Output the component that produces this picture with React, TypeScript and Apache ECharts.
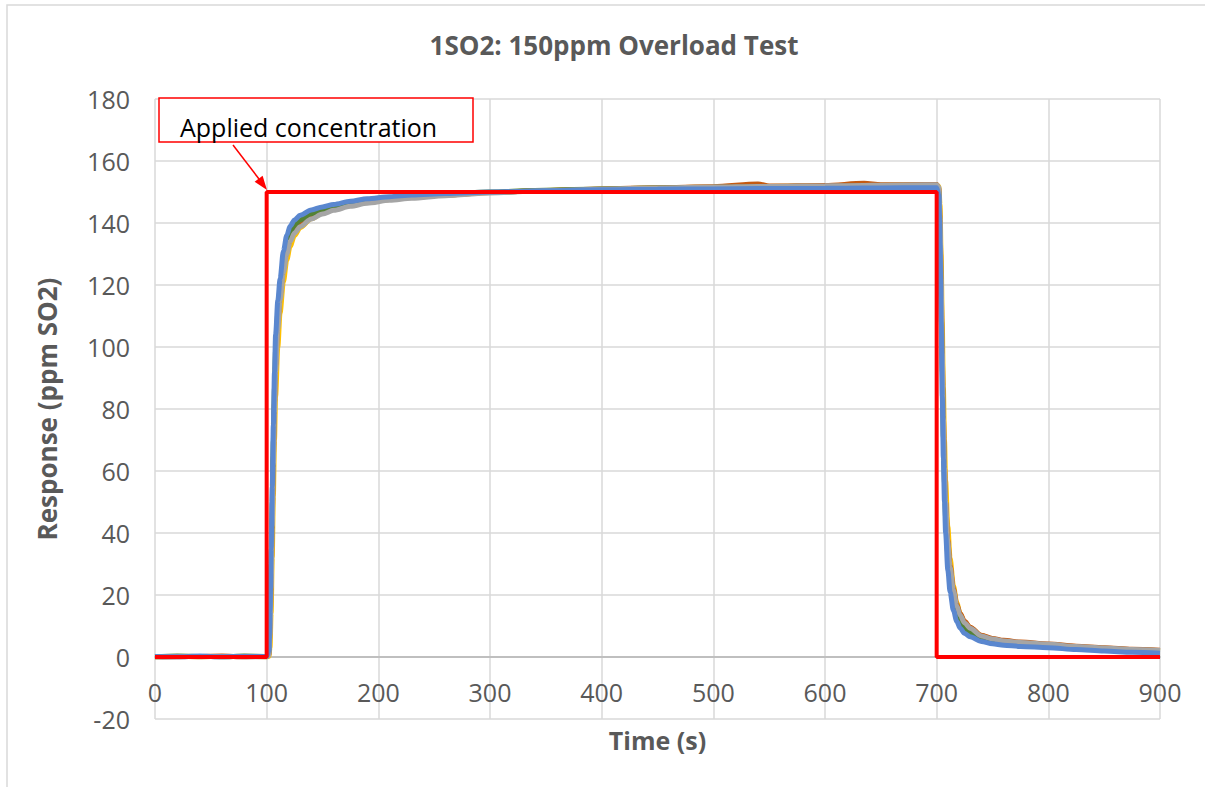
import React, { useEffect, useRef } from "react";
import * as echarts from "echarts";

const titleText = "1SO2: 150ppm Overload Test";
const xAxisName = "Time (s)";
const yAxisName = "Response (ppm SO2)";
const annotationText = "Applied concentration";

const appliedTime = [0, 100, 100, 700, 700, 900];
const appliedConc = [0, 0, 150, 150, 0, 0];

const sensorTime = [0, 20, 40, 60, 80, 100, 102, 103, 104, 105, 106, 107, 108, 110, 112, 115, 118, 121, 125, 130, 140, 150, 160, 175, 190, 210, 230, 260, 300, 350, 400, 450, 500, 540, 550, 600, 635, 650, 690, 700, 702, 703, 704, 705, 706, 707, 708, 710, 712, 715, 718, 721, 725, 730, 740, 750, 760, 775, 800, 825, 850, 875, 900];

const sensorBlue = [0.2, 0.1, 0.3, 0.1, 0.2, 0.2, 2, 15, 35, 55, 75, 92, 104, 115, 122, 131, 136, 139, 141, 142.5, 144.2, 145.2, 146, 147, 147.8, 148.5, 149, 149.5, 150, 150.4, 150.7, 150.9, 151, 151.1, 151.1, 151.2, 151.3, 151.3, 151.4, 151.4, 149, 133, 108, 84, 64, 50, 40, 28, 21, 15, 11.5, 9.3, 7.6, 6.5, 5.0, 4.3, 3.8, 3.4, 3.0, 2.4, 1.9, 1.5, 1.2];

const sensorGray = [0.1, 0.2, 0.1, 0.2, 0.1, 0.1, 0.5, 7, 22, 42, 62, 79, 92, 106, 115, 124, 130, 134, 136.8, 138.8, 141.3, 142.9, 144.1, 145.4, 146.4, 147.3, 148, 148.8, 149.7, 150.4, 150.9, 151.3, 151.6, 151.8, 151.8, 152, 152.1, 152.2, 152.3, 152.3, 151.5, 142, 122, 98, 77, 61, 50, 37, 29, 21.5, 16.5, 13.5, 11, 9.3, 6.8, 5.8, 5.2, 4.7, 4.1, 3.4, 2.9, 2.4, 2.1];

const sensorGreen = [0.1, 0.3, 0.2, 0.1, 0.3, 0.2, 1.5, 12, 30, 50, 70, 87, 99, 111, 119, 128, 133.5, 137, 139.3, 141, 143, 144.3, 145.2, 146.3, 147.2, 148, 148.6, 149.3, 150, 150.6, 151, 151.3, 151.5, 151.6, 151.6, 151.8, 151.9, 151.9, 152, 152, 150, 138, 116, 92, 71, 56, 45, 33, 25, 18.5, 14, 11.4, 9.3, 7.9, 6.0, 5.1, 4.5, 4.0, 3.5, 2.9, 2.4, 2.0, 1.7];

const sensorOrange = [0.2, 0.1, 0.2, 0.3, 0.1, 0.2, 0.8, 9, 25, 45, 65, 82, 94, 108, 116.5, 125.5, 131, 134.8, 137.5, 139.5, 142, 143.5, 144.6, 145.8, 146.8, 147.6, 148.3, 149, 149.8, 150.5, 151, 151.4, 151.7, 152.6, 151.9, 152.1, 152.8, 152.3, 152.4, 152.4, 151, 141, 121, 97, 77, 61, 50, 37.5, 29.5, 22, 17, 14, 11.5, 9.6, 7.0, 6.0, 5.4, 4.8, 4.2, 3.5, 3.0, 2.5, 2.2];

const sensorYellow = [0.1, 0.2, 0.1, 0.2, 0.2, 0.1, 0.2, 3, 14, 32, 52, 70, 84, 100, 111, 121, 128, 132.5, 136, 138.5, 141.4, 143.2, 144.5, 145.8, 146.8, 147.6, 148.3, 149, 149.8, 150.5, 150.9, 151.3, 151.6, 151.8, 151.8, 152, 152.1, 152.2, 152.3, 152.3, 151.8, 146, 130, 108, 87, 70, 57, 42, 32, 23, 17.5, 14, 11.3, 9.4, 6.9, 5.8, 5.1, 4.5, 3.9, 3.3, 2.8, 2.4, 2.0];

const xTicks = { min: 0, max: 900, interval: 100 };
const yTicks = { min: -20, max: 180, interval: 20 };

const FONT = "'Open Sans', 'Noto Sans', sans-serif";
const TEXT_COLOR = "#595959";

function pairs(xs: number[], ys: number[]) {
  return xs.map((x, i) => [x, ys[i]]);
}

export default function App() {
  const ref = useRef<HTMLDivElement>(null);

  useEffect(() => {
    if (!ref.current) return;
    const chart = echarts.init(ref.current, null, { renderer: "svg" });

    const gridTop = 99;
    const gridBottom = 68;
    const plotHeight = 787 - gridTop - gridBottom;
    // distance from bottom of the plot to the zero line, so the x axis sits on y = 0
    const zeroOffset = -plotHeight * (0 - yTicks.min) / (yTicks.max - yTicks.min);

    const sensorSeries = [
      { name: "S-yellow", color: "#FFC000", data: sensorYellow },
      { name: "S-orange", color: "#C55A11", data: sensorOrange },
      { name: "S-green", color: "#548235", data: sensorGreen },
      { name: "S-gray", color: "#A5A5A5", data: sensorGray },
      { name: "S-blue", color: "#5A87CF", data: sensorBlue },
    ].map((s) => ({
      name: s.name,
      type: "line",
      data: pairs(sensorTime, s.data),
      showSymbol: false,
      symbol: "none",
      smooth: 0.3,
      smoothMonotone: "x",
      lineStyle: { color: s.color, width: 5 },
      itemStyle: { color: s.color },
      z: 2,
    }));

    chart.setOption({
      animation: false,
      backgroundColor: "#ffffff",
      title: {
        text: titleText,
        left: 609,
        top: 27,
        textAlign: "center",
        textStyle: { fontFamily: FONT, fontSize: 26, fontWeight: "bold", color: TEXT_COLOR },
      },
      grid: {
        left: 155,
        right: 45,
        top: gridTop,
        bottom: gridBottom,
        containLabel: false,
        outerBoundsMode: "none",
      },
      xAxis: {
        type: "value",
        min: xTicks.min,
        max: xTicks.max,
        interval: xTicks.interval,
        position: "bottom",
        offset: zeroOffset,
        name: xAxisName,
        nameLocation: "middle",
        nameGap: 70,
        nameTextStyle: { fontFamily: FONT, fontSize: 25, fontWeight: "bold", color: TEXT_COLOR },
        axisLine: { show: true, onZero: false, lineStyle: { color: "#BFBFBF", width: 2 } },
        axisTick: { show: false },
        axisLabel: { fontFamily: FONT, fontSize: 25, color: TEXT_COLOR, margin: 22 },
        splitLine: { show: true, lineStyle: { color: "#D9D9D9", width: 1.5 } },
      },
      yAxis: {
        type: "value",
        min: yTicks.min,
        max: yTicks.max,
        interval: yTicks.interval,
        name: yAxisName,
        nameLocation: "middle",
        nameGap: 95,
        nameTextStyle: { fontFamily: FONT, fontSize: 26, fontWeight: "bold", color: TEXT_COLOR },
        axisLine: { show: false },
        axisTick: { show: false },
        axisLabel: { fontFamily: FONT, fontSize: 25, color: TEXT_COLOR, margin: 25 },
        splitLine: { show: true, lineStyle: { color: "#D9D9D9", width: 1.5 } },
      },
      series: [
        ...sensorSeries,
        {
          name: "Applied",
          type: "line",
          data: pairs(appliedTime, appliedConc),
          showSymbol: false,
          symbol: "none",
          lineStyle: { color: "#FF0000", width: 4 },
          itemStyle: { color: "#FF0000" },
          z: 5,
        },
      ],
      graphic: [
        {
          type: "rect",
          shape: { x: 7, y: 5, width: 1400, height: 1000 },
          style: { fill: "none", stroke: "#D9D9D9", lineWidth: 1.5 },
          z: -10,
          silent: true,
        },
        {
          type: "rect",
          shape: { x: 159, y: 98, width: 314, height: 44 },
          style: { fill: "#ffffff", stroke: "#FF0000", lineWidth: 1.5 },
          z: 20,
        },
        {
          type: "text",
          x: 180,
          y: 127,
          style: {
            text: annotationText,
            fontFamily: FONT,
            fontSize: 25,
            fill: "#000000",
            verticalAlign: "middle",
            align: "left",
          },
          z: 21,
        },
        {
          type: "line",
          shape: { x1: 233, y1: 145, x2: 259, y2: 179 },
          style: { stroke: "#FF0000", lineWidth: 1.5 },
          z: 20,
        },
        {
          type: "polygon",
          shape: { points: [[267, 190], [254.6, 181.8], [262.6, 175.8]] },
          style: { fill: "#FF0000" },
          z: 20,
        },
      ],
    });

    return () => chart.dispose();
  }, []);

  return (
    <div
      ref={ref}
      style={{ position: "fixed", left: 0, top: 0, width: 1205, height: 787 }}
    />
  );
}
